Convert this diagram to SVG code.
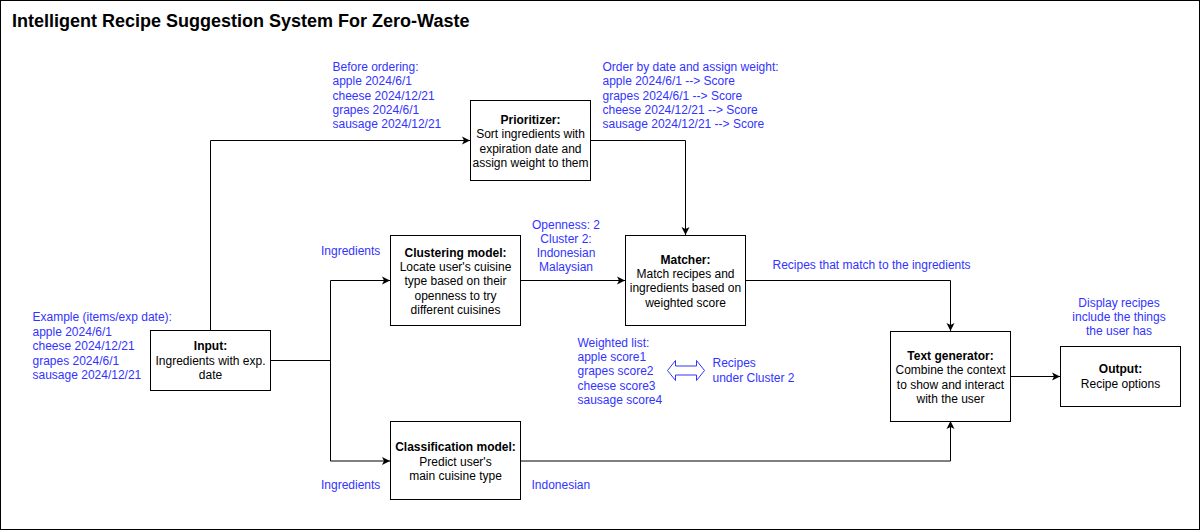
<svg xmlns="http://www.w3.org/2000/svg" width="1202" height="532" viewBox="0 0 1202 532">
<style>
  .box{fill:#fff;stroke:#000;stroke-width:1}
  .t{font-family:"Liberation Sans",Arial,sans-serif;font-size:12px;fill:#000;text-anchor:middle}
  .b{font-weight:bold}
  .lbl{font-family:"Liberation Sans",Arial,sans-serif;font-size:12px;fill:#3333FF}
  .c{text-anchor:middle}
  .edge{fill:none;stroke:#000;stroke-width:1;marker-end:url(#arr)}
</style>
<defs>
  <marker id="arr" markerUnits="userSpaceOnUse" markerWidth="10" markerHeight="10" refX="8" refY="4" orient="auto" viewBox="0 0 10 8">
    <path d="M0,0 L8,4 L0,8 L2,4 Z" fill="#000"/>
  </marker>
</defs>
<rect x="0.5" y="0.5" width="1199" height="529" fill="#fff" stroke="#000"/>
<text x="12" y="26.5" font-family="Liberation Sans,Arial,sans-serif" font-size="18" font-weight="bold" fill="#000">Intelligent Recipe Suggestion System For Zero-Waste</text>

<g id="connectors">
  <path class="edge" d="M210.5,330 V140.5 H470"/>
  <path class="edge" d="M270,360.5 H330.5 V280.5 H390"/>
  <path class="edge" d="M270,360.5 H330.5 V461 H390"/>
  <path class="edge" d="M590,140.5 H685.5 V235"/>
  <path class="edge" d="M520,280.5 H625"/>
  <path class="edge" d="M745,280.5 H950.5 V331"/>
  <path class="edge" d="M520,461 H950.5 V421"/>
  <path class="edge" d="M1010,376.5 H1060"/>
</g>

<g id="input">
  <rect class="box" x="150.5" y="330.5" width="120" height="60"/>
  <text class="t b" x="210.5" y="349.5">Input:</text>
  <text class="t" x="210.5" y="364.5">Ingredients with exp.</text>
  <text class="t" x="210.5" y="379">date</text>
</g>
<g id="prioritizer">
  <rect class="box" x="470.5" y="100.5" width="120" height="80"/>
  <text class="t b" x="530.5" y="124">Prioritizer:</text>
  <text class="t" x="530.5" y="138">Sort ingredients with</text>
  <text class="t" x="530.5" y="152.5">expiration date and</text>
  <text class="t" x="530.5" y="166.5">assign weight to them</text>
</g>
<g id="clustering">
  <rect class="box" x="390.5" y="235.5" width="130" height="90"/>
  <text class="t b" x="455.5" y="256.5">Clustering model:</text>
  <text class="t" x="455.5" y="270.5">Locate user's cuisine</text>
  <text class="t" x="455.5" y="285">type based on their</text>
  <text class="t" x="455.5" y="299.5">openness to try</text>
  <text class="t" x="455.5" y="313.5">different cuisines</text>
</g>
<g id="matcher">
  <rect class="box" x="625.5" y="235.5" width="120" height="90"/>
  <text class="t b" x="685.5" y="263.5">Matcher:</text>
  <text class="t" x="685.5" y="277.5">Match recipes and</text>
  <text class="t" x="685.5" y="292">ingredients based on</text>
  <text class="t" x="685.5" y="306.5">weighted score</text>
</g>
<g id="classification">
  <rect class="box" x="390.5" y="421.5" width="130" height="78"/>
  <text class="t b" x="455.5" y="451">Classification model:</text>
  <text class="t" x="455.5" y="466">Predict user's</text>
  <text class="t" x="455.5" y="480">main cuisine type</text>
</g>
<g id="textgen">
  <rect class="box" x="890.5" y="331.5" width="120" height="90"/>
  <text class="t b" x="950.5" y="359.5">Text generator:</text>
  <text class="t" x="950.5" y="373.5">Combine the context</text>
  <text class="t" x="950.5" y="388.5">to show and interact</text>
  <text class="t" x="950.5" y="402.5">with the user</text>
</g>
<g id="output">
  <rect class="box" x="1060.5" y="346.5" width="120" height="60"/>
  <text class="t b" x="1120.5" y="372.5">Output:</text>
  <text class="t" x="1120.5" y="388">Recipe options</text>
</g>

<g id="labels">
  <text class="lbl" x="332.5"><tspan x="332.5" y="70.5">Before ordering:</tspan><tspan x="332.5" y="85">apple 2024/6/1</tspan><tspan x="332.5" y="99.5">cheese 2024/12/21</tspan><tspan x="332.5" y="114">grapes 2024/6/1</tspan><tspan x="332.5" y="128">sausage 2024/12/21</tspan></text>
  <text class="lbl" x="602.5"><tspan x="602.5" y="70.5">Order by date and assign weight:</tspan><tspan x="602.5" y="85">apple 2024/6/1 --&gt; Score</tspan><tspan x="602.5" y="99.5">grapes 2024/6/1 --&gt; Score</tspan><tspan x="602.5" y="114">cheese 2024/12/21 --&gt; Score</tspan><tspan x="602.5" y="128">sausage 2024/12/21 --&gt; Score</tspan></text>
  <text class="lbl" x="32.5"><tspan x="32.5" y="321">Example (items/exp date):</tspan><tspan x="32.5" y="335.5">apple 2024/6/1</tspan><tspan x="32.5" y="350">cheese 2024/12/21</tspan><tspan x="32.5" y="364.5">grapes 2024/6/1</tspan><tspan x="32.5" y="379">sausage 2024/12/21</tspan></text>
  <text class="lbl" x="321" y="254.5">Ingredients</text>
  <text class="lbl c" x="566"><tspan x="566" y="228.5">Openness: 2</tspan><tspan x="566" y="242.5">Cluster 2:</tspan><tspan x="566" y="257">Indonesian</tspan><tspan x="566" y="271">Malaysian</tspan></text>
  <text class="lbl" x="772.5" y="269">Recipes that match to the ingredients</text>
  <text class="lbl c" x="1119"><tspan x="1119" y="306.5">Display recipes</tspan><tspan x="1119" y="320.5">include the things</tspan><tspan x="1119" y="335">the user has</tspan></text>
  <text class="lbl" x="577.5"><tspan x="577.5" y="346.5">Weighted list:</tspan><tspan x="577.5" y="361">apple score1</tspan><tspan x="577.5" y="375">grapes score2</tspan><tspan x="577.5" y="389.5">cheese score3</tspan><tspan x="577.5" y="404">sausage score4</tspan></text>
  <polygon points="667.5,370.5 675.5,360.5 675.5,366 696.5,366 696.5,360.5 704.5,370.5 696.5,380.5 696.5,375 675.5,375 675.5,380.5" fill="#fff" stroke="#3333FF" stroke-width="1"/>
  <text class="lbl" x="712.5"><tspan x="712.5" y="367">Recipes</tspan><tspan x="712.5" y="381.5">under Cluster 2</tspan></text>
  <text class="lbl" x="321" y="489">Ingredients</text>
  <text class="lbl" x="531.5" y="488.5">Indonesian</text>
</g>
</svg>
